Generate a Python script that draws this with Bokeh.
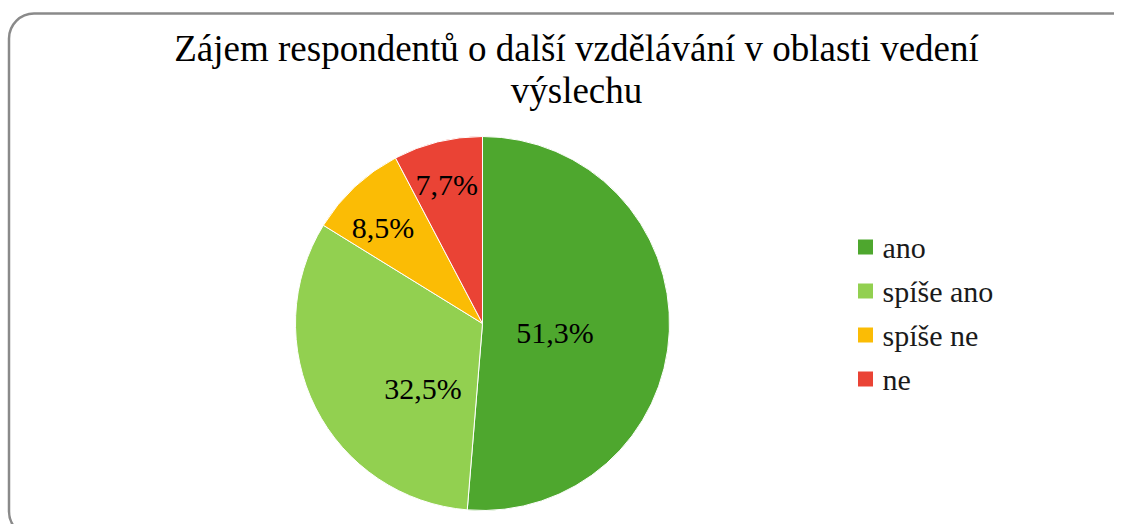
import numpy as np
from bokeh.plotting import figure
from bokeh.models import Range1d, BoxAnnotation
from bokeh.core.properties import value
from bokeh.embed import file_html
from bokeh.resources import INLINE

# ---- data ----
categories = ["ano", "spíše ano", "spíše ne", "ne"]
shares = [51.3, 32.5, 8.5, 7.7]
labels = ["51,3%", "32,5%", "8,5%", "7,7%"]
colors = ["#4ea72e", "#92d050", "#fbbc05", "#ea4335"]
title_lines = ["Zájem respondentů o další vzdělávání v oblasti vedení", "výslechu"]

# ---- style / layout ----
W, H = 1114, 524
cx, cy, R = 482, H - 323, 187
label_rfrac = [0.39, 0.47, 0.74, 0.77]
label_dtheta_deg = [4.7, -20.5, -3.0, -0.5]
FONT = "Liberation Serif"

p = figure(width=W, height=H, x_range=Range1d(0, W), y_range=Range1d(0, H),
           output_backend="svg", toolbar_location=None, min_border=0)
p.axis.visible = False
p.grid.visible = False
p.outline_line_color = None
p.background_fill_color = "white"
p.border_fill_color = "white"

# frame
p.add_layout(BoxAnnotation(left=8.5, right=1136, top=H - 13, bottom=-12,
                           border_radius=25, fill_alpha=0, line_alpha=1,
                           line_color="#8a8a8a", line_width=2.5))

# pie
vals = np.array(shares, dtype=float)
frac = vals / vals.sum()
cum = np.concatenate([[0.0], np.cumsum(frac)])
start = np.pi / 2 - 2 * np.pi * cum[:-1]
end = np.pi / 2 - 2 * np.pi * cum[1:]
p.wedge(x=[cx] * len(vals), y=[cy] * len(vals), radius=R,
        start_angle=start, end_angle=end, direction="clock",
        fill_color=colors, line_color="white", line_width=1)

# data labels
mid = 2 * np.pi * (cum[:-1] + cum[1:]) / 2 + np.radians(label_dtheta_deg)
lx = cx + R * np.array(label_rfrac) * np.sin(mid)
ly = cy + R * np.array(label_rfrac) * np.cos(mid)
p.text(x=lx, y=ly, text=labels, text_align="center", text_baseline="middle",
       text_font=value(FONT), text_font_size="30px", text_color="black")

# title
p.text(x=[576, 576], y=[H - 48, H - 90], text=title_lines,
       text_align="center", text_baseline="alphabetic",
       text_font=value(FONT), text_font_size="37px", text_color="black")

# legend
n = len(categories)
gap = 44
leg_y = [H - 246.5 - i * gap for i in range(n)]
p.rect(x=[865] * n, y=leg_y, width=15, height=15, width_units="screen",
       height_units="screen", fill_color=colors, line_color=None)
p.text(x=[882] * n, y=leg_y, text=categories, text_align="left",
       text_baseline="middle", text_font=value(FONT), text_font_size="30px",
       text_color="#1a1a1a")

open("out.html", "w").write(file_html(p, INLINE))
